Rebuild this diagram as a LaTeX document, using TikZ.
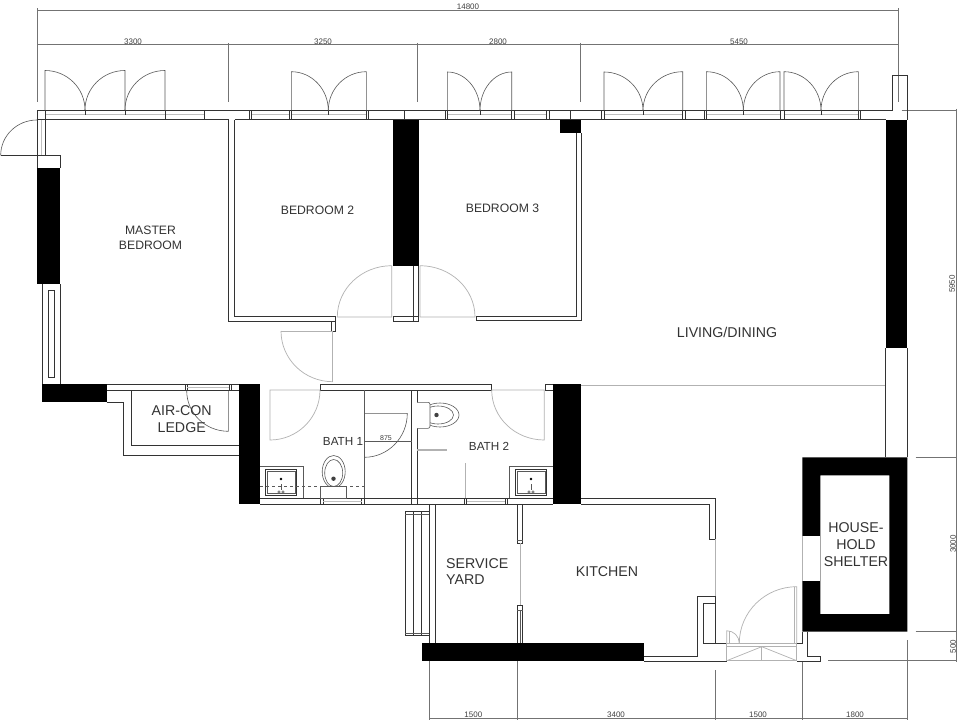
\documentclass[tikz,border=0pt]{standalone}
\usepackage{fontspec}
\setmainfont{Liberation Sans}
\tikzset{
  plan/.style={draw=black!80,line width=0.8pt},
  leaf/.style={draw=black!65,line width=0.6pt},
  faint/.style={draw=black!30,line width=0.7pt},
  glass/.style={draw=black!25,line width=1pt},
  wall/.style={fill=black},
  dimline/.style={draw=black!55,line width=0.6pt},
  dimtext/.style={inner sep=0pt,text=black!75,font=\fontsize{8}{9}\selectfont},
  roomname/.style={inner sep=0pt,text=black!80,align=center,font=\fontsize{12.2}{15.5}\selectfont},
  bigname/.style={inner sep=0pt,text=black!80,align=center,font=\fontsize{14.2}{16.8}\selectfont},
}
\begin{document}
\begin{tikzpicture}[x=1pt,y=-1pt]
\useasboundingbox (0,0) rectangle (960,722);
\fill[white] (0,0) rectangle (960,722);
\draw[dimline] (37,10)--(898,10); \draw[dimline] (37,44.5)--(898,44.5);
\draw[dimline] (37,8.5)--(37,102); \draw[dimline] (228.7,43)--(228.7,102);
\draw[dimline] (417.7,43)--(417.7,102); \draw[dimline] (580.7,43)--(580.7,102);
\draw[dimline] (898,8.5)--(898,102);
\draw[dimline] (901.7,110.3)--(956,110.3); \draw[dimline] (956,109)--(956,662);
\draw[dimline] (915.7,457.3)--(957,457.3); \draw[dimline] (915.7,631.7)--(957,631.7);
\draw[dimline] (828.3,660.7)--(957,660.7);
\draw[dimline] (429.3,718.3)--(907.3,718.3);
\draw[dimline] (429.3,661)--(429.3,719.5); \draw[dimline] (517.3,661)--(517.3,719.5);
\draw[dimline] (715,670)--(715,719.5); \draw[dimline] (802.3,661)--(802.3,719.5);
\draw[dimline] (907.3,640)--(907.3,719.5);
\node[dimtext] (total) at (468,6.5) {14800};
\node[dimtext] (widthA) at (133,41.5) {3300}; \node[dimtext] (widthB) at (323,41.5) {3250};
\node[dimtext] (widthC) at (498,41.5) {2800}; \node[dimtext] (widthD) at (739,41.5) {5450};
\node[dimtext,rotate=90] (depthA) at (952,284) {5950};
\node[dimtext,rotate=90] (depthB) at (953,544) {3000};
\node[dimtext,rotate=90] (depthC) at (953,646.5) {500};
\node[dimtext] (widthE) at (473.3,714.5) {1500}; \node[dimtext] (widthF) at (616,714.5) {3400};
\node[dimtext] (widthG) at (758,714.5) {1500}; \node[dimtext] (widthH) at (855,714.5) {1800};
\draw[plan] (37,110.5)--(892.3,110.5)--(892.3,75.7)--(907.3,75.7)--(907.3,120);
\draw[plan] (37,119.7)--(228.5,119.7); \draw[plan] (234.5,119.7)--(885.7,119.7);
\draw[glass] (45,115)--(204,115); \draw[glass] (251,115)--(289,115);
\draw[glass] (291,115)--(366,115); \draw[glass] (447,115)--(511.7,115);
\draw[glass] (514,115)--(546,115); \draw[glass] (604,115)--(682.7,115);
\draw[glass] (706,115)--(780,115); \draw[glass] (784,115)--(858,115);
\draw[plan] (45,110.5)--(45,119.7); \draw[plan] (204,110.5)--(204,119.7);
\draw[plan] (249,110.5)--(249,119.7); \draw[plan] (251,110.5)--(251,119.7);
\draw[plan] (289.5,110.5)--(289.5,119.7); \draw[plan] (291.3,110.5)--(291.3,119.7);
\draw[plan] (366.3,110.5)--(366.3,119.7); \draw[plan] (368.3,110.5)--(368.3,119.7);
\draw[plan] (404.7,110.5)--(404.7,119.7);
\draw[plan] (445.7,110.5)--(445.7,119.7); \draw[plan] (447.3,110.5)--(447.3,119.7);
\draw[plan] (511.7,110.5)--(511.7,119.7); \draw[plan] (514.3,110.5)--(514.3,119.7);
\draw[plan] (546.7,110.5)--(546.7,119.7); \draw[plan] (549,110.5)--(549,119.7);
\draw[plan] (570.3,110.5)--(570.3,119.7);
\draw[plan] (601,110.5)--(601,119.7); \draw[plan] (604,110.5)--(604,119.7);
\draw[plan] (682.7,110.5)--(682.7,119.7); \draw[plan] (685.5,110.5)--(685.5,119.7);
\draw[plan] (704,110.5)--(704,119.7); \draw[plan] (706.3,110.5)--(706.3,119.7);
\draw[plan] (780,110.5)--(780,119.7); \draw[plan] (784,110.5)--(784,119.7);
\draw[plan] (858.3,110.5)--(858.3,119.7); \draw[plan] (860,110.5)--(860,119.7);
\draw[plan] (85,110.5)--(85,115); \draw[plan] (125,110.5)--(125,115);
\draw[plan] (165,110.5)--(165,119.7); \draw[plan] (328.3,110.5)--(328.3,115);
\draw[plan] (480,110.5)--(480,115); \draw[plan] (643,110.5)--(643,115);
\draw[plan] (743.3,110.5)--(743.3,115); \draw[plan] (821,110.5)--(821,115);
\draw[leaf] (45,110.5)--(45,70.5) arc (-90:0:40 and 39.5);
\draw[leaf] (125,110.5)--(125,70.5) arc (-90:-180:40 and 39.5);
\draw[leaf] (165,110.5)--(165,70.5) arc (-90:-180:40 and 39.5);
\draw[leaf] (291.3,110.5)--(291.3,71.7) arc (-90:0:37 and 38.8);
\draw[leaf] (366.3,110.5)--(366.3,71.7) arc (-90:-180:38 and 38.8);
\draw[leaf] (447.3,110.5)--(447.3,72) arc (-90:0:32.7 and 38.5);
\draw[leaf] (511.7,110.5)--(511.7,72) arc (-90:-180:31.7 and 38.5);
\draw[leaf] (604,110.5)--(604,72) arc (-90:0:39 and 38.5);
\draw[leaf] (682.7,110.5)--(682.7,71.7) arc (-90:-180:39.7 and 38.8);
\draw[leaf] (706.3,110.5)--(706.3,71.7) arc (-90:0:37 and 38.8);
\draw[leaf] (780,110.5)--(780,71.7) arc (-90:-180:36.7 and 38.8);
\draw[leaf] (784,110.5)--(784,71.7) arc (-90:0:37 and 38.8);
\draw[leaf] (858.3,110.5)--(858.3,71.7) arc (-90:-180:37.3 and 38.8);
\draw[plan] (37,110.5)--(37,167.7); \draw[plan] (45,119.7)--(45,155.3);
\draw[glass] (41,120)--(41,155);
\draw[plan] (60,155.3)--(60,167.7); \draw[plan] (0.7,155.3)--(60,155.3);
\draw[leaf] (0.7,155.3) arc (180:270:36.3 and 35.3);
\fill[wall] (36.7,167.7) rectangle (60,284.3);
\draw[plan] (42.3,284)--(42.3,384); \draw[plan] (60,284)--(60,384);
\draw[plan] (48.3,290) rectangle (54.3,377.3);
\fill[wall] (42.3,384.3) rectangle (106.7,402.3);
\draw[plan] (106.7,384.3)--(239.3,384.3); \draw[plan] (106.7,390.7)--(239.3,390.7);
\draw[plan] (185,384.3)--(185,390.7); \draw[plan] (187,384.3)--(187,390.7);
\draw[plan] (229.3,384.3)--(229.3,390.7); \draw[plan] (231,384.3)--(231,390.7);
\draw[glass] (187,387.5)--(229,387.5);
\draw[plan] (106.7,402.3)--(123.3,402.3)--(123.3,455)--(239.3,455);
\draw[plan] (131.7,390.7)--(131.7,445)--(239.3,445);
\draw[leaf] (228.3,390.7)--(228.3,431.3) arc (90:180:41.6 and 40.6);
\node[bigname] (aircon) at (181.7,419) {AIR-CON\\LEDGE};
\draw[plan] (228.5,120)--(228.5,321)--(335.7,321)--(335.7,316)--(234.8,316)--(234.8,120);
\draw[plan] (331,321) rectangle (335.7,331);
\draw[faint] (332.7,331)--(332.7,381.7);
\draw[faint] (281,331)--(332.7,331); \draw[faint] (281,331) arc (180:90:51.7 and 50.7);
\fill[wall] (393.3,120) rectangle (418.5,265.7);
\draw[plan] (413.7,265.7)--(413.7,321); \draw[plan] (418.3,265.7)--(418.3,321);
\draw[plan] (393.3,316) rectangle (418.3,321);
\draw[faint] (391.7,265.7)--(391.7,317)--(337.3,317) arc (180:270:54.4 and 51.3);
\draw[faint] (420,265.7)--(420,317)--(475,317) arc (0:-90:55 and 51.3);
\draw[plan] (476,316)--(576.5,316)--(576.5,133); \draw[plan] (476,320.7)--(581,320.7)--(581,133);
\draw[plan] (476,316)--(476,320.7);
\fill[wall] (560.3,120) rectangle (581,132.7);
\fill[wall] (239.3,384.3) rectangle (260,504.3);
\fill[wall] (552.7,384.3) rectangle (580.7,504.3);
\draw[plan] (320,384.3)--(491.7,384.3); \draw[plan] (320,390)--(491.7,390);
\draw[plan] (320,384.3)--(320,390); \draw[plan] (491.7,384.3)--(491.7,390);
\draw[plan] (545,384.3)--(552.7,384.3); \draw[plan] (545,390)--(552.7,390); \draw[plan] (545,384.3)--(545,390);
\draw[faint] (270,390)--(270,440) arc (90:0:50 and 50)--cycle;
\draw[faint] (544.3,390)--(544.3,440) arc (90:180:52.6 and 50)--cycle;
\draw[faint] (581,385)--(885.7,385);
\draw[plan] (411.7,390)--(411.7,504.3); \draw[plan] (417,390)--(417,504.3);
\draw[leaf] (364.3,390)--(364.3,498.3);
\draw[leaf] (364.3,413.3)--(407.3,413.3) arc (0:90:43 and 44);
\draw[leaf] (364.3,441.7)--(411.7,441.7);
\node[dimtext,font=\fontsize{7}{8}\selectfont] (door) at (386,438) {875};
\node[roomname,font=\fontsize{11.7}{14}\selectfont] (bathA) at (343,441) {BATH 1};
\node[roomname,font=\fontsize{11.7}{14}\selectfont] (bathB) at (489,446) {BATH 2};
\draw[plan] (260,498.3)--(552.7,498.3); \draw[plan] (260,504.3)--(552.7,504.3);
\draw[plan] (320.7,498.3)--(320.7,504.3); \draw[plan] (323.3,498.3)--(323.3,504.3);
\draw[plan] (361.7,498.3)--(361.7,504.3); \draw[plan] (364,498.3)--(364,504.3);
\draw[plan] (464.3,498.3)--(464.3,504.3); \draw[plan] (466.7,498.3)--(466.7,504.3);
\draw[plan] (505,498.3)--(505,504.3); \draw[plan] (507.7,498.3)--(507.7,504.3);
\draw[glass] (323.3,501.3)--(361.7,501.3); \draw[glass] (466.7,501.3)--(505,501.3);
\draw[leaf] (260,466)--(303.3,466)--(303.3,498.3);
\draw[plan] (265.7,469) rectangle (296.7,495); \draw[leaf] (267.5,471) rectangle (295,493);
\fill[black] (281,479) circle (1.3);
\draw[leaf] (281,484)--(281,490); \draw[leaf] (279,492) circle (1.3); \draw[leaf] (283,492) circle (1.3);
\draw[leaf,dashed] (260,486.7)--(364,486.7);
\draw[leaf,fill=white] (333.7,471.7) ellipse (11.5 and 16.2);
\draw[leaf] (333.7,473) ellipse (9 and 13.5);
\draw[leaf,fill=white] (320.7,486)--(346.7,486)--(346.7,498.3)--(320.7,498.3)--cycle;
\fill[black!75] (333.5,478.7) circle (2.2);
\draw[leaf,fill=white] (440,415) ellipse (19 and 12);
\draw[leaf] (438,415) ellipse (15.5 and 9);
\draw[leaf,rounded corners=2pt,fill=white] (417,402.3)--(430,402.3)--(430,428.3)--(417,428.3);
\fill[black!75] (436.5,415) circle (2.2);
\draw[faint,line width=1.2pt] (417,450)--(446.7,450); \draw[faint] (465.7,463.3)--(465.7,498.3);
\draw[leaf] (552.7,466)--(509.3,466)--(509.3,498.3);
\draw[plan] (515.7,469) rectangle (546.7,495); \draw[leaf] (517.5,471) rectangle (545,493);
\fill[black] (531,479) circle (1.3);
\draw[leaf] (531,484)--(531,490); \draw[leaf] (529,492) circle (1.3); \draw[leaf] (533,492) circle (1.3);
\draw[plan] (429.3,504.3)--(429.3,643.3); \draw[plan] (435.7,504.3)--(435.7,643.3);
\draw[plan] (405,511.7) rectangle (429.3,635.7); \draw[plan] (413.3,511.7)--(413.3,635.7);
\draw[plan] (421.7,511.7)--(421.7,635.7); \draw[leaf] (405,514)--(429.3,514); \draw[leaf] (405,633.5)--(429.3,633.5);
\draw[plan] (517.3,504.3) rectangle (522.7,543.3); \draw[leaf] (517.3,540.5)--(522.7,540.5);
\draw[faint] (520,543.3)--(520,605);
\draw[plan] (517.3,605) rectangle (522.7,643.3); \draw[leaf] (517.3,610)--(522.7,610); \draw[leaf] (520,610)--(520,643);
\fill[wall] (422.3,643.3) rectangle (644,661.3);
\draw[plan] (580.7,498.3)--(715,498.3)--(715,539)--(709,539)--(709,504.3)--(580.7,504.3);
\draw[faint] (715,539)--(715,596.7);
\draw[plan] (644,656.3)--(697.3,656.3)--(697.3,596.7)--(715,596.7)--(715,643.3);
\draw[plan] (715,603.3)--(703.3,603.3)--(703.3,643.3)--(726.7,643.3);
\draw[plan] (644,661)--(726.7,661);
\draw[faint] (726.7,643.3) rectangle (796.7,660.7); \draw[faint] (726.7,646.7)--(796.7,646.7);
\draw[faint] (726.7,660.7)--(761.7,646.7)--(796.7,660.7); \draw[faint] (761.7,646.7)--(761.7,660.7);
\draw[faint] (796.7,643.3)--(796.7,586.7) arc (-90:-180:57.4 and 56.6);
\draw[faint] (794.7,586.7)--(794.7,643.3);
\draw[faint] (726.7,643.3)--(726.7,630.7) arc (-90:0:12.6 and 12.6);
\draw[faint] (729.5,631)--(729.5,643.3);
\draw[plan] (796.7,643.3)--(802.3,643.3)--(802.3,631.7); \draw[plan] (807.3,631.7)--(807.3,656)--(820,656)--(820,661)--(796.7,661);
\fill[wall,even odd rule] (802.3,457.3) rectangle (907.3,631.7) (820.3,475.3) rectangle (889.3,614);
\fill[white] (802.3,535.7) rectangle (820.3,581.3);
\draw[faint] (802.5,535.7)--(802.5,581.3);
\fill[wall] (885.7,120) rectangle (907.3,348);
\draw[plan] (885.7,348)--(885.7,457.3); \draw[plan] (907.3,348)--(907.3,457.3);
\node[roomname] (master) at (150.5,238) {MASTER\\BEDROOM};
\node[roomname] (bedB) at (317.5,210) {BEDROOM 2};
\node[roomname] (bedC) at (502.5,208) {BEDROOM 3};
\node[bigname] (living) at (727,332) {LIVING/DINING};
\node[bigname,align=left,anchor=west] (yard) at (446,571.5) {SERVICE\\YARD};
\node[bigname] (kitchen) at (607,572) {KITCHEN};
\node[bigname] (shelter) at (856,544.5) {HOUSE-\\HOLD\\SHELTER};
\end{tikzpicture}
\end{document}
